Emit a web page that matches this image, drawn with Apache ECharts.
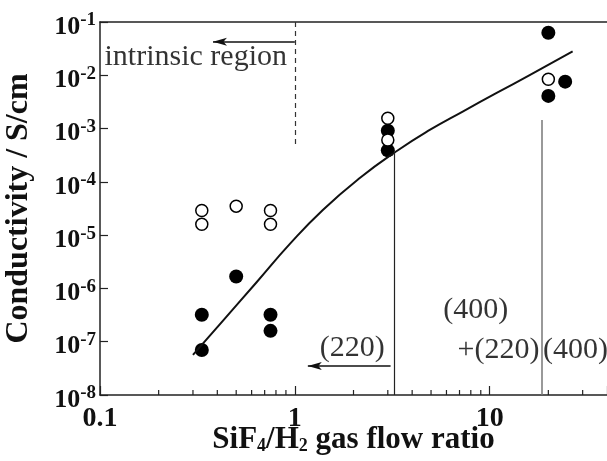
<!DOCTYPE html>
<html>
<head>
<meta charset="utf-8">
<script src="https://cdn.jsdelivr.net/npm/echarts@6/dist/echarts.min.js"></script>
<style>
  html, body { margin: 0; padding: 0; background: #fff; }
  #main { width: 607px; height: 461px; }
</style>
</head>
<body>
<div id="main"></div>
<script>
// measured points (SiF4/H2 ratio vs conductivity)
var filledX = [0.333, 0.333, 0.5, 0.75, 0.75, 3, 3, 20, 20, 24.4];
var filledY = [3.2e-7, 7.0e-8, 1.67e-6, 3.2e-7, 1.6e-7, 9.1e-4, 3.9e-4, 6.3e-2, 4.1e-3, 7.6e-3];
var openX = [0.333, 0.333, 0.5, 0.75, 0.75, 3, 3, 20];
var openY = [2.9e-5, 1.6e-5, 3.5e-5, 2.9e-5, 1.6e-5, 1.56e-3, 6.1e-4, 8.4e-3];

// fitted curve
var fitX = [0.300, 0.427, 0.638, 0.943, 1.392, 2.154, 3.336, 4.924, 7.27, 10.86, 16.04, 26.65];
var fitY = [5.65e-8, 2.46e-7, 1.32e-6, 6.84e-6, 2.97e-5, 1.18e-4, 3.80e-4, 9.42e-4, 2.09e-3, 4.66e-3, 1.01e-2, 2.80e-2];

var xTickLabels = ['0.1', '1', '10'];
var xMinorTicks = [0.2, 0.3, 0.4, 0.5, 0.6, 0.7, 0.8, 0.9, 2, 3, 4, 5, 6, 7, 8, 9, 20, 30];

var serif = 'Liberation Serif';

function pairs(xs, ys) {
    return xs.map(function (x, i) { return [x, ys[i]]; });
}

var chart = echarts.init(document.getElementById('main'));

var option = {
    backgroundColor: '#fff',
    animation: false,
    grid: { left: 100, top: 22, width: 507, bottom: 66, outerBoundsMode: 'none' },
    xAxis: [
        {
            type: 'log',
            min: 0.1,
            max: 40,
            splitNumber: 3,
            name: 'SiF{sub|4}/H{sub|2} gas flow ratio',
            nameLocation: 'middle',
            nameMoveOverlap: false,
            nameGap: 29,
            nameTextStyle: {
                fontFamily: serif, fontWeight: 'bold', fontSize: 31, color: '#111',
                rich: {
                    sub: { fontFamily: serif, fontWeight: 'bold', fontSize: 18, verticalAlign: 'bottom', lineHeight: 14, padding: [14, 0, 0, 0] }
                }
            },
            axisLine: { show: true, lineStyle: { color: '#222', width: 1.5 } },
            axisTick: { inside: true, length: 9, lineStyle: { color: '#222', width: 1.2 } },
            splitLine: { show: false },
            axisLabel: {
                margin: 10,
                fontFamily: serif, fontWeight: 'bold', fontSize: 28, color: '#111',
                formatter: function (v) {
                    var s = String(+v.toPrecision(3));
                    return xTickLabels.indexOf(s) >= 0 ? s : '';
                }
            }
        },
        {
            type: 'log',
            min: 0.1,
            max: 40,
            position: 'top',
            axisLine: { show: true, lineStyle: { color: '#222', width: 1.5 } },
            axisTick: { show: false },
            axisLabel: { show: false },
            splitLine: { show: false }
        }
    ],
    yAxis: {
        type: 'log',
        min: 1e-8,
        max: 1e-1,
        splitNumber: 7,
        name: 'Conductivity / S/cm',
        nameLocation: 'middle',
        nameMoveOverlap: false,
        nameGap: 65,
        nameTextStyle: { fontFamily: serif, fontWeight: 'bold', fontSize: 32, color: '#111' },
        axisLine: { show: true, lineStyle: { color: '#222', width: 1.5 } },
        axisTick: { inside: true, length: 8, lineStyle: { color: '#222', width: 1.2 } },
        splitLine: { show: false },
        axisLabel: {
            margin: 4,
            padding: [10, 0, 0, 0],
            formatter: function (v) {
                var e = Math.round(Math.log10(v));
                return '{b|10}{s|' + e + '}';
            },
            rich: {
                b: { fontFamily: serif, fontWeight: 'bold', fontSize: 26, color: '#111', lineHeight: 32 },
                s: { fontFamily: serif, fontWeight: 'bold', fontSize: 19, color: '#111', lineHeight: 16, verticalAlign: 'top' }
            }
        }
    },
    series: [
        {
            type: 'custom',
            silent: true,
            data: xMinorTicks.map(function (x) { return [x, 1e-8]; }),
            renderItem: function (params, api) {
                var p = api.coord([api.value(0), api.value(1)]);
                return {
                    type: 'line',
                    shape: { x1: p[0], y1: p[1], x2: p[0], y2: p[1] - 5 },
                    style: { stroke: '#222', lineWidth: 1.2 }
                };
            }
        },
        {
            type: 'line',
            data: pairs(fitX, fitY),
            smooth: 0.5,
            showSymbol: false,
            lineStyle: { color: '#111', width: 2 },
            markLine: {
                silent: true,
                symbol: ['none', 'none'],
                label: { show: false },
                data: [
                    [
                        { coord: [1, 0.1], lineStyle: { type: [5, 4], color: '#333', width: 1.2 } },
                        { coord: [1, 4.3e-4] }
                    ],
                    [
                        { coord: [3.22, 3.6e-4], lineStyle: { type: 'solid', color: '#222', width: 1.2 } },
                        { coord: [3.22, 1e-8] }
                    ],
                    [
                        { coord: [18.4, 1.45e-3], lineStyle: { type: 'solid', color: '#777', width: 1.5 } },
                        { coord: [18.4, 1e-8] }
                    ],
                    [
                        { coord: [1, 0.0427], symbol: 'none', lineStyle: { type: 'solid', color: '#111', width: 1.5 } },
                        { coord: [0.38, 0.0427], symbol: 'arrow', symbolSize: [6, 14] }
                    ],
                    [
                        { coord: [3.1, 3.5e-8], symbol: 'none', lineStyle: { type: 'solid', color: '#111', width: 1.5 } },
                        { coord: [1.166, 3.5e-8], symbol: 'arrow', symbolSize: [6, 14] }
                    ]
                ]
            }
        },
        {
            type: 'scatter',
            data: pairs(filledX, filledY),
            symbol: 'circle',
            symbolSize: 14,
            itemStyle: { color: '#000', opacity: 1 }
        },
        {
            type: 'scatter',
            data: pairs(openX, openY),
            symbol: 'circle',
            symbolSize: 12,
            itemStyle: { color: '#fff', borderColor: '#000', borderWidth: 1.5, opacity: 1 }
        },
        {
            type: 'scatter',
            silent: true,
            symbolSize: 0,
            label: {
                show: true,
                position: 'inside',
                fontFamily: serif,
                fontSize: 30,
                color: '#000',
                formatter: function (p) { return p.name; }
            },
            data: [
                { name: 'intrinsic region', value: [0.31, 0.0223] },
                { name: '(220)', value: [1.97, 7.65e-8] },
                { name: '(400)', value: [8.47, 3.95e-7] },
                { name: '+(220)', value: [11.1, 7.0e-8] },
                { name: '(400)', value: [27.6, 7.0e-8] }
            ]
        }
    ]
};

chart.setOption(option);
</script>
</body>
</html>
